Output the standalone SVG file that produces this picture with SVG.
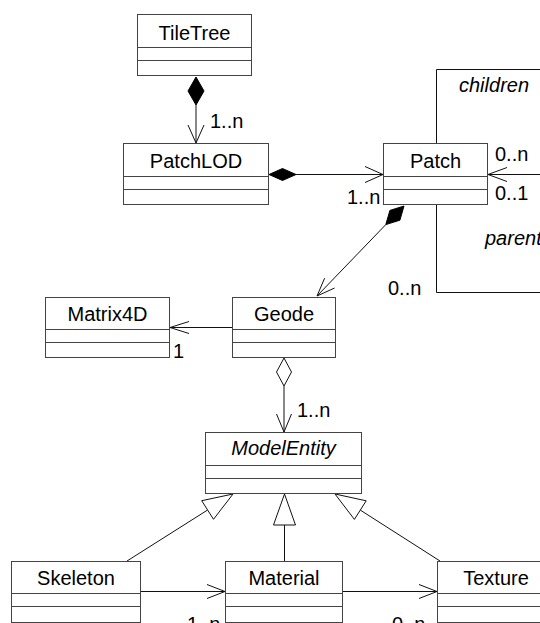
<svg xmlns="http://www.w3.org/2000/svg" width="540" height="623" viewBox="0 0 540 623">
<style>
.box{fill:#fff;stroke:#444;stroke-width:1}
.div{stroke:#444;stroke-width:1}
.t{font-family:"Liberation Sans",Arial,sans-serif;font-size:20px;fill:#000;text-anchor:middle}
.l{font-family:"Liberation Sans",Arial,sans-serif;font-size:20px;fill:#000}
.i{font-style:italic}
.ln{fill:none;stroke:#111;stroke-width:1}
.fd{fill:#000;stroke:#000;stroke-width:1}
.od{fill:#fff;stroke:#111;stroke-width:1}
</style>
<rect width="540" height="623" fill="#fff"/>
<g id="connectors">
  <!-- TileTree -> PatchLOD -->
  <line class="ln" x1="196" y1="105" x2="196" y2="143"/>
  <polygon class="fd" points="196,77 204,91 196,105 188,91"/>
  <polyline class="ln" points="188,125 196,143 204,125"/>
  <!-- PatchLOD -> Patch -->
  <line class="ln" x1="296" y1="174.5" x2="383" y2="174.5"/>
  <polygon class="fd" points="269,174.5 282.5,168.5 296,174.5 282.5,180.5"/>
  <polyline class="ln" points="365,166.5 383,174.5 365,182.5"/>
  <!-- Patch -> Geode -->
  <line class="ln" x1="385.8" y1="224.6" x2="317" y2="296"/>
  <polygon class="fd" points="404,206 399.9,220.2 385.8,224.6 389.9,210.4"/>
  <polyline class="ln" points="334.6,288 317,296 324.6,278.2"/>
  <!-- Geode -> Matrix4D -->
  <line class="ln" x1="232" y1="327.5" x2="170" y2="327.5"/>
  <polyline class="ln" points="189,321.5 170,327.5 189,333.5"/>
  <!-- Geode -> ModelEntity -->
  <line class="ln" x1="284" y1="386" x2="284" y2="432"/>
  <polygon class="od" points="284,358 291.5,372 284,386 276.5,372"/>
  <polyline class="ln" points="276.5,414 284,432 291.5,414"/>
  <!-- Patch self association -->
  <polyline class="ln" points="436.5,143 436.5,69.5 541,69.5"/>
  <polyline class="ln" points="436.5,205 436.5,292.5 541,292.5"/>
  <line class="ln" x1="488" y1="174.5" x2="541" y2="174.5"/>
  <polyline class="ln" points="507,167.5 488,174.5 507,181.5"/>
  <!-- Generalizations -->
  <line class="ln" x1="127" y1="561" x2="207.6" y2="510"/>
  <polygon class="od" points="233,494 213.5,519.3 201.7,500.7"/>
  <line class="ln" x1="284.5" y1="525" x2="284.5" y2="561"/>
  <polygon class="od" points="284.5,494 295.5,525 273.5,525"/>
  <line class="ln" x1="440" y1="561" x2="360.3" y2="510.1"/>
  <polygon class="od" points="335,494 366.2,500.8 354.4,519.4"/>
  <!-- Skeleton -> Material -->
  <line class="ln" x1="140" y1="591.5" x2="225" y2="591.5"/>
  <polyline class="ln" points="207,584.5 225,591.5 207,598.5"/>
  <!-- Material -> Texture -->
  <line class="ln" x1="342" y1="591.5" x2="437" y2="591.5"/>
  <polyline class="ln" points="419,584.5 437,591.5 419,598.5"/>
  <!-- labels -->
  <text class="l" x="210" y="128">1..n</text>
  <text class="l" x="347" y="204">1..n</text>
  <text class="l" x="495" y="161">0..n</text>
  <text class="l" x="495" y="200">0..1</text>
  <text class="l i" x="459" y="92">children</text>
  <text class="l i" x="485" y="245">parent</text>
  <text class="l" x="388" y="295">0..n</text>
  <text class="l" x="173" y="358">1</text>
  <text class="l" x="297" y="417">1..n</text>
  <text class="l" x="187" y="631">1..n</text>
  <text class="l" x="392" y="631">0..n</text>
</g>
<g id="TileTree">
  <rect class="box" x="137.5" y="14.5" width="114" height="61"/>
  <line class="div" x1="137.5" y1="47.5" x2="251.5" y2="47.5"/>
  <line class="div" x1="137.5" y1="60.5" x2="251.5" y2="60.5"/>
  <text class="t" x="194.5" y="39.5">TileTree</text>
</g>
<g id="PatchLOD">
  <rect class="box" x="123.5" y="143.5" width="145" height="61"/>
  <line class="div" x1="123.5" y1="176.5" x2="268.5" y2="176.5"/>
  <line class="div" x1="123.5" y1="189.5" x2="268.5" y2="189.5"/>
  <text class="t" x="196" y="168">PatchLOD</text>
</g>
<g id="Patch">
  <rect class="box" x="383.5" y="143.5" width="104" height="61"/>
  <line class="div" x1="383.5" y1="176.5" x2="487.5" y2="176.5"/>
  <line class="div" x1="383.5" y1="189.5" x2="487.5" y2="189.5"/>
  <text class="t" x="435.5" y="168">Patch</text>
</g>
<g id="Matrix4D">
  <rect class="box" x="45.5" y="297.5" width="124" height="60"/>
  <line class="div" x1="45.5" y1="329.5" x2="169.5" y2="329.5"/>
  <line class="div" x1="45.5" y1="342.5" x2="169.5" y2="342.5"/>
  <text class="t" x="107.5" y="321">Matrix4D</text>
</g>
<g id="Geode">
  <rect class="box" x="232.5" y="297.5" width="103" height="60"/>
  <line class="div" x1="232.5" y1="329.5" x2="335.5" y2="329.5"/>
  <line class="div" x1="232.5" y1="342.5" x2="335.5" y2="342.5"/>
  <text class="t" x="284" y="321">Geode</text>
</g>
<g id="ModelEntity">
  <rect class="box" x="205.5" y="432.5" width="156" height="61"/>
  <line class="div" x1="205.5" y1="465.5" x2="361.5" y2="465.5"/>
  <line class="div" x1="205.5" y1="478.5" x2="361.5" y2="478.5"/>
  <text class="t i" x="283.5" y="455">ModelEntity</text>
</g>
<g id="Skeleton">
  <rect class="box" x="11.5" y="561.5" width="129" height="61"/>
  <line class="div" x1="11.5" y1="593.5" x2="140.5" y2="593.5"/>
  <line class="div" x1="11.5" y1="606.5" x2="140.5" y2="606.5"/>
  <text class="t" x="76" y="585">Skeleton</text>
</g>
<g id="Material">
  <rect class="box" x="225.5" y="561.5" width="117" height="61"/>
  <line class="div" x1="225.5" y1="593.5" x2="342.5" y2="593.5"/>
  <line class="div" x1="225.5" y1="606.5" x2="342.5" y2="606.5"/>
  <text class="t" x="284" y="585">Material</text>
</g>
<g id="Texture">
  <rect class="box" x="437.5" y="561.5" width="117" height="61"/>
  <line class="div" x1="437.5" y1="593.5" x2="554.5" y2="593.5"/>
  <line class="div" x1="437.5" y1="606.5" x2="554.5" y2="606.5"/>
  <text class="t" x="496" y="585">Texture</text>
</g>
</svg>
